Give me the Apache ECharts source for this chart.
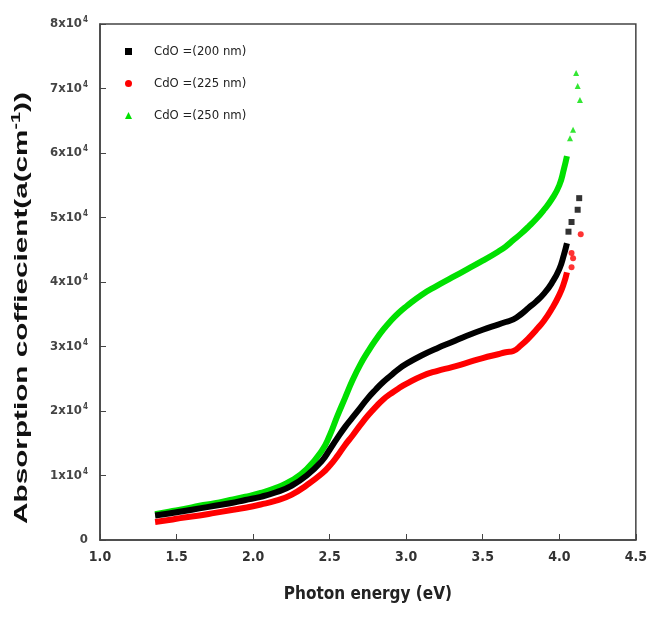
<!DOCTYPE html>
<html><head><meta charset="utf-8">
<script src="https://cdn.jsdelivr.net/npm/echarts@6/dist/echarts.min.js"></script>
<style>html,body{margin:0;padding:0;background:#fff}#c{width:650px;height:617px}</style>
</head><body><div id="c"></div>
<script>
// Photon energy (eV) grid for the dense part of each curve
const energy = [1.36,1.45,1.55,1.65,1.75,1.85,1.95,2.05,2.15,2.25,2.35,2.45,2.5,2.55,2.6,2.65,2.7,2.75,2.8,2.85,2.9,2.95,3.0,3.1,3.2,3.3,3.4,3.5,3.6,3.65,3.7,3.75,3.8,3.85,3.9,3.95,4.0,4.03,4.05];
// Absorption coefficient (cm^-1)
const cdo200 = [3800,4100,4500,4900,5300,5700,6200,6700,7400,8400,10000,12300,14000,15800,17500,19000,20500,22000,23300,24500,25500,26500,27300,28600,29700,30700,31700,32600,33400,33800,34200,35000,36000,37000,38200,39800,42000,44200,46000];
const cdo225 = [2800,3100,3500,3800,4200,4600,5000,5500,6100,7000,8500,10300,11500,13000,14700,16200,17800,19300,20600,21800,22700,23500,24200,25400,26200,26800,27500,28200,28800,29100,29300,30200,31300,32600,34000,35800,38000,39800,41500];
const cdo250 = [4000,4400,4800,5300,5700,6200,6700,7300,8100,9200,11000,13900,16200,19200,22000,24800,27200,29200,31000,32600,34000,35200,36200,38000,39400,40700,42000,43300,44700,45500,46500,47500,48600,49800,51200,52800,55000,57500,59500];
// Sparse high-energy tail points [eV, cm^-1]
const tail200 = [[4.06,47800],[4.08,49300],[4.12,51200],[4.13,53000]];
const tail225 = [[4.08,42300],[4.09,43700],[4.08,44500],[4.14,47400]];
const tail250 = [[4.07,62300],[4.09,63600],[4.135,68200],[4.12,70400],[4.11,72400]];
const names = ['CdO =(200 nm)','CdO =(225 nm)','CdO =(250 nm)'];
const colors = ['#000000','#ff0000','#00e000'];
const xTicks = {min:1.0,max:4.5,interval:0.5};
const yTicks = {min:0,max:80000,interval:10000};

const FONT = '"DejaVu Sans Condensed", "Liberation Sans", Arial, sans-serif';
const zip = (xs, ys) => xs.map((x,i)=>[x, ys[i]]);
const dense = [cdo200, cdo225, cdo250];
const tails = [tail200, tail225, tail250];
const symbols = ['rect','circle','triangle'];

const series = [];
for (let i=0;i<3;i++){
  series.push({type:'line', name:names[i], data:zip(energy, dense[i]), showSymbol:false, smooth:0.5,
    lineStyle:{color:colors[i], width:6}, itemStyle:{color:colors[i]}, z:3-i+2, silent:true});
  series.push({type:'scatter', name:names[i], data:tails[i], symbol:symbols[i], symbolSize:6,
    itemStyle:{color:colors[i]}, z:5});
}

const chart = echarts.init(document.getElementById('c'));
chart.setOption({
  animation:false,
  backgroundColor:'#fff',
  grid:{left:100, right:13, top:24, bottom:77, show:true, borderColor:'#444', borderWidth:1.5, backgroundColor:'transparent'},
  legend:{orient:'vertical', left:120, top:40, itemGap:19, itemWidth:7, itemHeight:7,
    data:names.map((n,i)=>({name:n, icon:symbols[i], itemStyle:{color:colors[i]}})),
    textStyle:{fontFamily:FONT, fontSize:13, color:'#222', padding:[0,0,0,17]}},
  xAxis:{type:'value', min:xTicks.min, max:xTicks.max, interval:xTicks.interval,
    axisLine:{lineStyle:{color:'#444', width:1.5}},
    axisTick:{inside:true, length:6, lineStyle:{color:'#444'}},
    splitLine:{show:false},
    axisLabel:{formatter:v=>v.toFixed(1), color:'#333', fontFamily:FONT, fontWeight:'bold', fontSize:14, margin:10},
    name:'Photon energy (eV)', nameLocation:'middle', nameGap:46,
    nameTextStyle:{fontFamily:FONT, fontWeight:'bold', fontSize:17, color:'#222'}},
  yAxis:{type:'value', min:yTicks.min, max:yTicks.max, interval:yTicks.interval,
    axisLine:{show:true, lineStyle:{color:'#444', width:1.5}},
    axisTick:{show:true, inside:true, length:6, lineStyle:{color:'#444'}},
    splitLine:{show:false},
    axisLabel:{margin:12, formatter:v=> v===0 ? '{b|0}' : '{b|'+(v/10000)+'x10}{s|4}',
      rich:{b:{fontFamily:FONT, fontWeight:'bold', fontSize:13, color:'#444'},
            s:{fontFamily:FONT, fontWeight:'bold', fontSize:8, color:'#444', verticalAlign:'top', padding:[0,0,8,1]}}}},
  graphic:[{type:'text', x:22, y:308, rotation:Math.PI/2, scaleX:1.65,
    style:{text:'{t|Absorption coffiecient(a(cm}{s|-1}{t|))}', align:'center', verticalAlign:'middle',
      rich:{t:{fontFamily:'"Liberation Sans", Arial, sans-serif', fontWeight:'bold', fontSize:18, fill:'#111'},
            s:{fontFamily:'"Liberation Sans", Arial, sans-serif', fontWeight:'bold', fontSize:12, fill:'#111', verticalAlign:'top', padding:[0,0,10,0]}}}}],
  series:series
});
</script></body></html>
